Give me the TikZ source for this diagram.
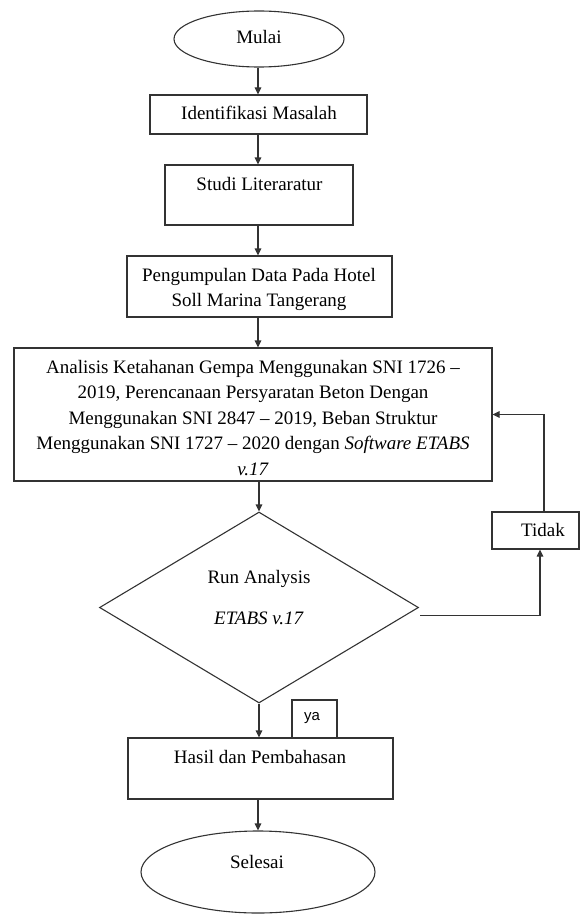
\documentclass[tikz,border=0pt]{standalone}
\usepackage{fontspec}
\setmainfont{Liberation Serif}
\newfontfamily\yafont{Liberation Sans}
\usetikzlibrary{shapes.geometric,arrows.meta,calc}
\begin{document}
\begin{tikzpicture}[x=1pt,y=-1pt,
  every node/.style={font=\fontsize{19}{25.5}\selectfont},
  lin/.style={draw=black!80,line width=1.1pt},
  box/.style={lin,rectangle,inner sep=0pt},
  oval/.style={lin,ellipse,inner sep=0pt},
  txt/.style={inner sep=0pt,text height=12.5pt,text depth=0pt},
  mtxt/.style={inner sep=0pt,align=center,anchor=north},
  arr/.style={lin,-{Triangle[length=7pt,width=6.5pt]}}]
\useasboundingbox (0,0) rectangle (581,915);
% shapes
\node[oval,minimum width=170pt,minimum height=56pt] (mulai) at (259,39) {};
\node[txt] (mulaiT) at (259,37) {Mulai};
\node[box,minimum width=217pt,minimum height=39pt] (ident) at (258.5,114.5) {};
\node[txt] (identT) at (259,113) {Identifikasi Masalah};
\node[box,minimum width=188pt,minimum height=60pt] (studi) at (259,195) {};
\node[txt] (studiT) at (259.5,184) {Studi Literaratur};
\node[box,minimum width=265pt,minimum height=61pt] (peng) at (259.5,286.5) {};
\node[mtxt] (pengT) at (259,268) {Pengumpulan Data Pada Hotel\\Soll Marina Tangerang};
\node[box,minimum width=478pt,minimum height=133pt] (anal) at (253,414.5) {};
\node[mtxt] (analT) at (253,360) {Analisis Ketahanan Gempa Menggunakan SNI 1726 --\\2019, Perencanaan Persyaratan Beton Dengan\\Menggunakan SNI 2847 -- 2019, Beban Struktur\\Menggunakan SNI 1727 -- 2020 dengan \textit{Software ETABS}\\\textit{v.17}};
\node[lin,diamond,inner sep=0pt,minimum width=319pt,minimum height=191pt] (dia) at (259,607.5) {};
\node[txt] (diaT1) at (259,577) {Run Analysis};
\node[txt] (diaT2) at (259,618) {\textit{ETABS v.17}};
\node[box,minimum width=87pt,minimum height=37pt] (tidak) at (535.5,530.5) {};
\node[txt] (tidakT) at (543,530) {Tidak};
\node[box,minimum width=45pt,minimum height=38pt] (ya) at (314.5,719) {};
\node[inner sep=0pt,font=\yafont\fontsize{15}{18}\selectfont] (yaT) at (312,718) {ya};
\node[box,minimum width=265pt,minimum height=61pt] (hasil) at (260.5,768.5) {};
\node[txt] (hasilT) at (260,757) {Hasil dan Pembahasan};
\node[oval,minimum width=234pt,minimum height=82pt] (selesai) at (258,872) {};
\node[txt] (selesaiT) at (257,862) {Selesai};
% connectors
\draw[arr] (mulai.south -| 258,0) -- (ident.north -| 258,0);
\draw[arr] (ident.south -| 258,0) -- (studi.north -| 258,0);
\draw[arr] (studi.south -| 258,0) -- (peng.north -| 258,0);
\draw[arr] (peng.south -| 258,0) -- (anal.north -| 258,0);
\draw[arr] (anal.south -| dia.north) -- (dia.north);
\draw[arr] (dia.south) -- (hasil.north -| dia.south);
\draw[arr] (hasil.south -| 258,0) -- (selesai.north -| 258,0);
\draw[arr] ([xshift=1pt,yshift=-8pt]dia.east) -| ([xshift=4.5pt]tidak.south);
\draw[arr] ([xshift=8.5pt]tidak.north) |- (anal.east);
\end{tikzpicture}
\end{document}
